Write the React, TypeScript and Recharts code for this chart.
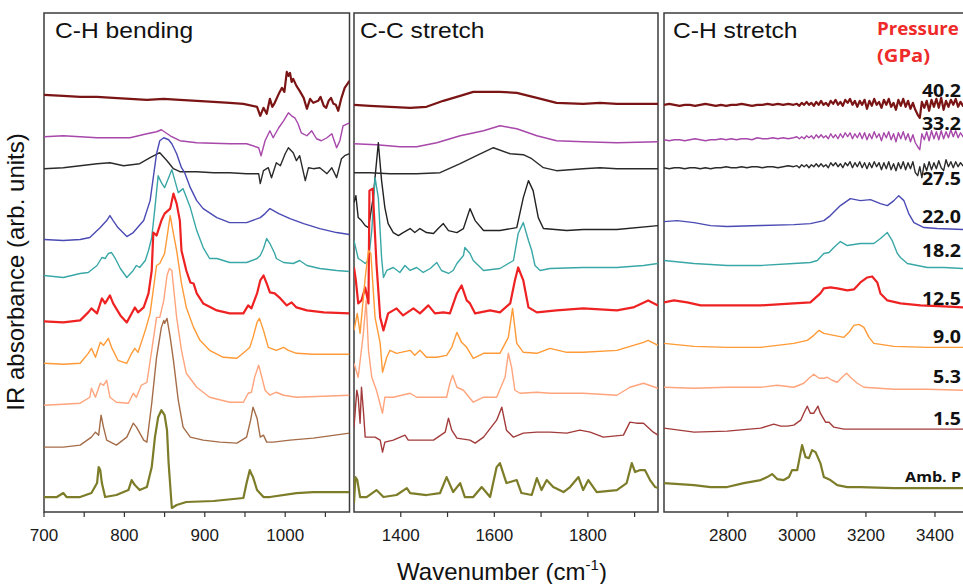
import React from "react";
import { LineChart, Line, XAxis, YAxis, ReferenceArea } from "recharts";

type Pt = [number, number];

// ---- pressures (GPa), top to bottom ----
const pressureLabels = ["40.2", "33.2", "27.5", "22.0", "18.2", "12.5", "9.0", "5.3", "1.5", "Amb. P"];
const panelTitles = ["C-H bending", "C-C stretch", "C-H stretch"];

// ---- axis ticks ----
const bendTicks = [700, 750, 800, 850, 900, 950, 1000, 1050];
const ccTicks = [1400, 1500, 1600, 1700, 1800, 1900];
const chTicks = [2800, 3000, 3200, 3400];

// ---- C-H bending panel (wavenumber, absorbance + offset) ----
const bend40: Pt[] = [[700,41.8],[724,41.7],[745,41.6],[766,41.6],[786,41.5],[807,41.4],[828,41.3],[849,41.4],[869,41.3],[890,41.2],[911,41.1],[931,41.0],[948,40.9],[965,40.6],[969,39.7],[973,40.5],[977,39.9],[981,41.4],[984,40.6],[987,41.0],[992,41.9],[996,42.5],[999,42.1],[1002,44.1],[1004,43.7],[1006,44.0],[1008,43.1],[1010,43.4],[1014,42.7],[1018,42.2],[1023,41.5],[1027,40.4],[1031,41.4],[1035,41.0],[1041,41.2],[1044,41.6],[1048,40.7],[1051,40.5],[1054,41.2],[1057,41.5],[1060,40.9],[1063,40.8],[1066,40.2],[1070,41.5],[1074,42.5],[1080,43.2]];
const bend33: Pt[] = [[700,37.6],[724,37.7],[766,37.5],[807,37.5],[828,37.9],[840,38.1],[846,38.3],[857,37.7],[869,37.2],[890,37.0],[931,36.9],[952,36.9],[967,36.5],[970,35.7],[975,37.2],[981,38.2],[985,37.5],[992,38.5],[998,39.2],[1004,40.0],[1008,39.7],[1012,39.5],[1016,38.9],[1020,38.0],[1027,37.7],[1033,38.2],[1039,37.4],[1045,37.2],[1052,37.5],[1058,37.9],[1064,36.5],[1068,37.2],[1072,38.7],[1080,39.0]];
const bend27: Pt[] = [[700,34.4],[724,34.5],[745,34.7],[766,34.9],[782,35.0],[799,34.7],[819,34.9],[832,35.5],[844,36.0],[853,35.2],[861,34.4],[869,34.1],[890,34.1],[911,34.0],[931,34.0],[952,33.9],[967,33.9],[969,32.9],[973,34.2],[979,34.5],[983,33.5],[989,35.0],[994,34.7],[1000,35.9],[1004,36.5],[1010,36.0],[1014,35.2],[1018,35.7],[1025,33.2],[1029,34.5],[1035,34.4],[1043,34.5],[1052,33.9],[1058,34.5],[1064,33.5],[1070,35.4],[1074,35.7],[1080,35.9]];
const bend22: Pt[] = [[700,27.3],[724,27.2],[745,27.3],[757,27.5],[770,28.5],[778,29.2],[782,29.7],[786,29.2],[792,28.5],[803,27.6],[811,28.0],[824,29.2],[832,31.2],[840,35.9],[844,37.2],[849,37.5],[855,37.3],[859,36.9],[865,35.9],[871,34.5],[875,34.0],[882,32.5],[890,31.2],[898,30.4],[915,29.5],[931,29.0],[952,29.0],[969,29.5],[975,29.9],[981,30.4],[992,29.9],[1006,29.4],[1023,28.9],[1043,28.4],[1064,28.0],[1080,27.8]];
const bend18: Pt[] = [[700,23.7],[724,23.5],[745,23.9],[755,24.0],[766,24.7],[772,25.5],[776,25.4],[780,25.9],[784,26.0],[788,25.5],[795,24.4],[803,23.5],[811,24.2],[815,24.7],[819,24.5],[826,25.2],[830,26.2],[834,27.5],[838,30.5],[842,33.7],[846,33.0],[850,32.5],[859,34.3],[867,32.0],[873,32.4],[882,30.5],[890,28.2],[898,26.5],[906,25.4],[915,25.4],[931,25.0],[952,25.0],[965,25.4],[969,25.7],[973,26.4],[977,27.4],[981,26.9],[987,25.9],[989,25.4],[998,25.0],[1010,24.9],[1018,25.2],[1027,24.7],[1043,24.4],[1064,24.2],[1080,24.1]];
const bend12: Pt[] = [[700,19.1],[724,19.0],[745,19.2],[755,20.0],[759,20.4],[766,19.9],[772,21.4],[776,20.9],[782,21.7],[786,20.9],[795,19.7],[803,19.0],[809,19.9],[813,20.5],[817,20.0],[824,20.5],[830,21.9],[834,24.2],[836,28.0],[840,27.7],[846,29.2],[850,29.9],[857,30.4],[861,31.9],[865,30.9],[869,29.2],[871,26.2],[877,24.2],[882,23.0],[886,22.9],[890,21.9],[898,20.9],[915,20.2],[931,19.9],[948,19.9],[954,20.7],[958,20.4],[965,21.9],[969,23.2],[973,23.7],[977,22.9],[981,22.0],[987,21.9],[994,21.4],[1002,20.7],[1008,21.0],[1014,20.5],[1027,20.2],[1048,20.0],[1080,19.9]];
const bend9: Pt[] = [[700,14.9],[724,14.8],[745,14.9],[755,15.9],[759,16.4],[764,15.5],[770,17.0],[774,16.7],[780,17.4],[784,16.5],[792,15.2],[803,14.9],[809,15.9],[813,16.4],[817,16.0],[826,18.2],[832,19.9],[840,24.7],[844,24.9],[850,25.9],[857,29.7],[861,27.9],[865,26.2],[871,22.9],[877,20.5],[886,18.5],[894,17.2],[906,16.2],[923,15.5],[940,15.4],[952,16.2],[956,16.5],[960,17.5],[965,19.0],[968,19.4],[973,18.2],[979,16.5],[989,16.2],[998,16.5],[1004,16.2],[1014,15.9],[1035,15.8],[1080,15.8]];
const bend5: Pt[] = [[700,10.7],[724,10.8],[745,10.9],[757,11.5],[759,12.4],[764,11.5],[770,12.9],[774,12.7],[778,13.2],[782,11.5],[790,11.0],[805,10.9],[811,11.9],[815,11.5],[821,12.7],[828,13.0],[834,16.2],[840,19.5],[844,19.5],[849,21.2],[853,23.7],[856,24.4],[859,24.2],[865,19.5],[871,16.2],[877,13.9],[890,12.5],[906,11.5],[931,11.0],[948,11.0],[954,11.9],[958,12.0],[962,13.5],[967,14.7],[971,13.5],[975,12.2],[981,11.7],[989,12.0],[998,11.7],[1014,11.5],[1080,11.7]];
const bend1: Pt[] = [[700,6.5],[724,6.5],[745,6.7],[759,7.5],[764,8.0],[768,7.7],[771,9.7],[774,8.5],[778,7.2],[790,6.7],[803,7.5],[811,8.9],[815,8.5],[824,7.2],[828,7.0],[834,10.9],[840,15.5],[846,18.5],[849,19.2],[850,18.9],[853,19.4],[857,17.5],[861,15.2],[867,11.2],[873,8.5],[882,7.5],[898,7.2],[919,7.0],[940,6.9],[952,7.5],[957,9.2],[960,10.5],[965,9.4],[969,7.5],[973,7.7],[977,7.0],[985,7.0],[1006,7.2],[1035,7.4],[1080,7.9]];
const bendAmb: Pt[] = [[700,1.5],[716,1.5],[724,1.9],[728,1.5],[745,1.5],[759,1.9],[766,2.9],[768,4.5],[770,4.2],[772,2.9],[776,1.5],[790,1.7],[805,2.2],[809,3.2],[813,2.7],[819,2.2],[828,2.5],[834,4.5],[838,7.5],[842,9.5],[846,10.2],[850,9.7],[853,8.2],[855,4.9],[859,0.4],[865,0.7],[877,1.0],[911,1.1],[948,1.4],[952,2.9],[956,4.2],[958,3.8],[960,3.5],[965,2.2],[973,1.5],[981,1.5],[1014,1.9],[1035,2.0],[1080,2.0]];

// ---- C-C stretch panel ----
const cc40: Pt[] = [[1300,40.8],[1334,40.7],[1377,40.6],[1420,40.5],[1455,40.6],[1491,41.2],[1527,41.7],[1555,42.1],[1612,42.1],[1648,42.0],[1691,41.5],[1733,41.0],[1790,40.9],[1826,41.0],[1862,40.9],[1950,40.9]];
const cc33: Pt[] = [[1300,36.9],[1348,36.8],[1398,36.6],[1434,36.6],[1477,37.0],[1527,37.7],[1577,38.2],[1612,38.7],[1648,38.4],[1691,37.7],[1733,37.2],[1790,37.1],[1862,37.0],[1950,37.1]];
const cc27: Pt[] = [[1300,34.0],[1334,34.0],[1377,33.9],[1434,33.9],[1484,34.0],[1527,34.9],[1562,35.7],[1598,36.5],[1634,35.9],[1662,35.8],[1680,35.4],[1705,34.5],[1733,34.2],[1790,34.4],[1826,34.5],[1862,34.4],[1950,34.4]];
const cc22: Pt[] = [[1300,31.0],[1304,31.7],[1309,29.5],[1316,29.2],[1324,28.7],[1331,28.5],[1341,31.5],[1352,37.0],[1359,33.2],[1366,30.5],[1373,28.9],[1384,28.0],[1395,27.7],[1405,28.0],[1420,28.4],[1430,28.0],[1441,28.4],[1455,28.0],[1470,27.9],[1480,28.4],[1491,28.9],[1502,28.2],[1520,28.0],[1534,28.4],[1548,30.4],[1559,29.2],[1577,28.2],[1612,28.2],[1648,28.5],[1662,31.5],[1673,33.2],[1683,32.2],[1694,29.5],[1705,28.4],[1755,28.2],[1790,28.3],[1862,28.3],[1950,28.7]];
const cc18: Pt[] = [[1300,27.2],[1309,25.4],[1316,25.2],[1324,24.9],[1331,25.2],[1338,28.2],[1345,33.5],[1352,31.5],[1359,25.5],[1363,23.5],[1370,24.2],[1384,24.5],[1398,24.0],[1409,24.7],[1420,24.2],[1434,24.5],[1448,24.0],[1463,24.4],[1477,25.0],[1487,24.2],[1502,23.9],[1512,24.2],[1520,24.9],[1534,25.7],[1537,26.5],[1548,25.9],[1555,25.2],[1566,24.7],[1577,24.2],[1612,24.4],[1641,25.2],[1651,27.9],[1662,29.0],[1673,27.2],[1680,26.2],[1687,24.7],[1698,24.2],[1719,24.4],[1790,24.5],[1862,24.5],[1919,24.7],[1950,24.9]];
const cc12: Pt[] = [[1300,24.5],[1304,23.2],[1309,20.9],[1316,21.2],[1324,22.5],[1331,20.9],[1333,32.2],[1340,32.4],[1348,24.9],[1356,19.5],[1363,18.2],[1373,19.9],[1391,20.4],[1405,19.7],[1427,20.4],[1441,19.9],[1459,20.7],[1473,19.9],[1491,20.0],[1505,19.9],[1520,21.9],[1530,22.7],[1541,21.2],[1548,20.9],[1559,19.9],[1591,20.2],[1612,20.0],[1634,20.9],[1644,23.2],[1651,24.5],[1662,23.2],[1673,20.5],[1691,20.0],[1733,20.2],[1790,20.4],[1862,20.2],[1897,20.5],[1929,21.2],[1950,20.7]];
const cc9: Pt[] = [[1300,18.2],[1307,19.9],[1313,17.9],[1324,23.5],[1331,26.2],[1336,25.9],[1345,19.5],[1356,16.9],[1361,14.0],[1370,15.5],[1377,16.2],[1391,15.9],[1420,16.2],[1430,15.7],[1441,16.2],[1455,15.5],[1477,15.5],[1498,15.7],[1509,16.5],[1520,18.0],[1530,17.0],[1541,16.5],[1555,15.4],[1577,15.9],[1612,15.9],[1630,17.5],[1639,20.4],[1648,16.9],[1662,16.0],[1691,15.9],[1719,16.4],[1755,16.0],[1790,16.0],[1862,16.2],[1919,17.0],[1929,17.2],[1950,16.7]];
const cc5: Pt[] = [[1300,14.9],[1309,13.5],[1320,17.9],[1326,21.2],[1331,16.2],[1338,13.5],[1348,12.2],[1361,9.9],[1366,11.5],[1384,11.5],[1420,11.9],[1434,11.5],[1477,11.5],[1498,11.5],[1505,12.9],[1511,13.7],[1520,12.5],[1534,12.2],[1555,11.0],[1577,11.5],[1605,11.5],[1623,13.5],[1630,15.9],[1637,14.5],[1644,12.2],[1655,11.9],[1691,12.0],[1719,11.9],[1790,11.9],[1862,11.7],[1890,12.5],[1919,12.9],[1950,12.4]];
const cc1: Pt[] = [[1300,8.5],[1306,12.2],[1309,11.5],[1313,8.9],[1316,12.5],[1320,10.2],[1324,7.5],[1334,7.5],[1345,7.5],[1356,7.2],[1361,6.0],[1366,7.0],[1384,7.2],[1409,7.7],[1416,7.2],[1470,7.2],[1495,8.0],[1502,9.4],[1509,8.2],[1520,7.4],[1548,7.2],[1559,6.9],[1577,7.5],[1605,9.2],[1616,10.5],[1626,8.2],[1641,7.5],[1662,7.9],[1691,8.0],[1719,8.0],[1755,7.9],[1783,8.2],[1805,8.0],[1833,7.5],[1876,7.7],[1890,9.0],[1904,8.9],[1919,8.9],[1940,8.0],[1950,7.7]];
const ccAmb: Pt[] = [[1300,0.9],[1303,3.5],[1307,3.2],[1313,1.5],[1327,1.5],[1348,2.2],[1363,1.5],[1391,1.7],[1413,2.4],[1420,1.9],[1455,1.7],[1484,1.9],[1498,3.5],[1512,2.0],[1527,2.9],[1537,1.5],[1555,1.5],[1573,2.5],[1591,1.5],[1605,4.5],[1612,4.9],[1626,2.9],[1648,3.2],[1658,1.9],[1680,1.7],[1691,3.4],[1701,2.2],[1712,3.2],[1726,2.5],[1748,2.0],[1762,2.5],[1780,3.5],[1790,2.2],[1801,3.2],[1819,2.0],[1862,2.2],[1883,2.9],[1894,4.9],[1901,4.0],[1912,4.2],[1922,4.2],[1933,3.2],[1944,2.5],[1950,2.4]];

// ---- C-H stretch panel ----
const ch40: Pt[] = [[2615,40.8],[2630,40.9],[2645,40.8],[2660,40.7],[2675,40.8],[2690,40.8],[2705,40.7],[2720,40.8],[2735,40.9],[2750,40.8],[2765,40.7],[2780,40.8],[2795,40.7],[2810,40.8],[2825,40.8],[2840,40.9],[2855,40.8],[2870,40.7],[2885,40.8],[2900,40.8],[2915,40.9],[2930,40.8],[2945,40.9],[2960,40.8],[2975,40.9],[2990,40.8],[3000,40.9],[3007,40.7],[3014,41.0],[3021,40.8],[3028,41.1],[3035,40.8],[3042,41.0],[3049,40.7],[3056,41.1],[3063,40.8],[3070,41.2],[3077,40.8],[3084,41.0],[3091,40.7],[3098,41.2],[3105,40.9],[3112,41.3],[3119,40.8],[3126,41.1],[3133,40.7],[3140,41.3],[3147,41.0],[3154,41.4],[3161,40.8],[3168,41.2],[3175,40.6],[3182,41.2],[3189,40.8],[3196,41.3],[3203,40.4],[3210,41.2],[3217,40.7],[3224,41.4],[3231,40.8],[3238,41.1],[3245,40.5],[3252,41.3],[3259,40.8],[3266,41.4],[3273,40.6],[3280,41.0],[3287,40.3],[3294,41.3],[3301,40.7],[3308,41.4],[3315,40.6],[3322,41.2],[3329,40.4],[3336,41.0],[3343,40.3],[3350,39.8],[3356,39.5],[3362,41.1],[3369,40.5],[3376,41.2],[3383,40.2],[3390,41.3],[3397,40.6],[3404,41.4],[3411,40.5],[3418,41.5],[3425,40.3],[3432,41.2],[3439,40.6],[3446,41.3],[3453,40.8],[3460,41.4],[3467,40.6],[3474,41.1],[3481,40.7],[3488,41.2],[3495,40.8],[3500,41.0]];
const ch33: Pt[] = [[2615,37.3],[2630,37.2],[2645,37.3],[2660,37.3],[2675,37.2],[2690,37.3],[2705,37.4],[2720,37.3],[2735,37.2],[2750,37.3],[2765,37.3],[2780,37.4],[2795,37.3],[2810,37.4],[2825,37.3],[2840,37.4],[2855,37.4],[2870,37.3],[2885,37.5],[2900,37.4],[2915,37.4],[2930,37.5],[2945,37.4],[2960,37.5],[2975,37.4],[2990,37.5],[3000,37.6],[3007,37.4],[3014,37.6],[3021,37.4],[3028,37.7],[3035,37.5],[3042,37.7],[3049,37.4],[3056,37.8],[3063,37.5],[3070,37.8],[3077,37.5],[3084,37.7],[3091,37.4],[3098,37.9],[3105,37.5],[3112,37.8],[3119,37.4],[3126,37.9],[3133,37.5],[3140,38.0],[3147,37.6],[3154,38.0],[3161,37.4],[3168,37.9],[3175,37.5],[3182,38.0],[3189,37.4],[3196,38.0],[3203,37.3],[3210,37.9],[3217,37.4],[3224,38.1],[3231,37.5],[3238,37.9],[3245,37.2],[3252,38.0],[3259,37.5],[3266,38.1],[3273,37.3],[3280,37.9],[3287,37.1],[3294,38.0],[3301,37.4],[3308,38.1],[3315,37.3],[3322,37.9],[3329,37.1],[3336,37.8],[3343,37.0],[3350,36.6],[3356,36.3],[3362,37.9],[3369,37.3],[3376,38.1],[3383,37.2],[3390,38.2],[3397,37.4],[3404,38.1],[3411,37.3],[3418,38.2],[3425,37.4],[3432,38.1],[3439,37.5],[3446,38.3],[3453,37.6],[3460,38.2],[3467,37.5],[3474,38.0],[3481,37.6],[3488,38.1],[3495,37.7],[3500,37.8]];
const ch27: Pt[] = [[2615,34.5],[2630,34.4],[2645,34.5],[2660,34.5],[2675,34.4],[2690,34.5],[2705,34.5],[2720,34.4],[2735,34.5],[2750,34.4],[2765,34.5],[2780,34.5],[2795,34.6],[2810,34.5],[2825,34.5],[2840,34.6],[2855,34.5],[2870,34.6],[2885,34.6],[2900,34.5],[2915,34.6],[2930,34.6],[2945,34.5],[2960,34.6],[2975,34.7],[2990,34.6],[3000,34.7],[3007,34.5],[3014,34.8],[3021,34.6],[3028,34.8],[3035,34.5],[3042,34.8],[3049,34.6],[3056,34.9],[3063,34.6],[3070,34.9],[3077,34.6],[3084,34.8],[3091,34.5],[3098,35.0],[3105,34.7],[3112,35.0],[3119,34.6],[3126,34.9],[3133,34.5],[3140,35.0],[3147,34.7],[3154,35.1],[3161,34.5],[3168,35.0],[3175,34.6],[3182,35.1],[3189,34.5],[3196,35.0],[3203,34.4],[3210,35.0],[3217,34.5],[3224,35.1],[3231,34.6],[3238,35.0],[3245,34.3],[3252,35.0],[3259,34.4],[3266,35.1],[3273,34.3],[3280,34.9],[3287,34.2],[3294,35.0],[3301,34.4],[3308,35.1],[3315,34.3],[3322,35.0],[3329,34.4],[3336,35.1],[3343,34.0],[3350,33.7],[3356,34.6],[3362,33.5],[3369,34.9],[3376,34.2],[3383,35.1],[3390,34.3],[3397,35.0],[3404,34.4],[3411,35.2],[3418,34.5],[3425,34.2],[3432,35.3],[3439,34.6],[3446,35.1],[3453,34.5],[3460,35.1],[3467,34.6],[3474,35.0],[3481,34.7],[3488,35.0],[3495,34.8],[3500,34.9]];
const ch22: Pt[] = [[2615,29.1],[2653,29.2],[2702,29.0],[2750,28.7],[2798,28.6],[2895,28.7],[2991,28.8],[3039,28.9],[3078,29.2],[3097,29.7],[3126,30.7],[3155,31.4],[3184,31.2],[3213,31.3],[3242,30.9],[3262,30.7],[3281,31.2],[3295,31.7],[3310,31.2],[3324,29.9],[3339,29.0],[3368,28.5],[3406,28.4],[3483,28.3],[3500,28.3]];
const ch18: Pt[] = [[2615,25.2],[2702,24.9],[2798,24.7],[2895,24.7],[2991,24.9],[3039,25.0],[3059,25.2],[3078,25.9],[3093,26.0],[3107,26.5],[3126,27.1],[3146,26.7],[3184,26.9],[3223,26.9],[3242,27.4],[3262,28.0],[3276,27.2],[3291,25.9],[3300,25.5],[3320,24.9],[3378,24.5],[3426,24.5],[3483,24.4],[3500,24.4]];
const ch12: Pt[] = [[2615,21.0],[2644,21.2],[2682,21.0],[2721,20.7],[2798,20.7],[2895,20.7],[2991,20.9],[3039,21.0],[3068,21.9],[3078,22.4],[3097,22.5],[3117,22.4],[3146,22.2],[3165,22.3],[3184,23.0],[3204,23.5],[3218,23.6],[3233,23.0],[3242,21.9],[3262,21.2],[3300,20.9],[3358,20.7],[3426,20.6],[3483,20.5],[3500,20.5]];
const ch9: Pt[] = [[2615,16.9],[2702,16.6],[2798,16.5],[2895,16.5],[2943,16.7],[2991,16.9],[3030,17.2],[3049,17.7],[3064,18.2],[3078,17.9],[3107,17.7],[3136,17.5],[3151,18.0],[3165,18.7],[3180,18.8],[3194,18.5],[3209,17.5],[3223,16.9],[3281,16.6],[3378,16.5],[3483,16.5],[3500,16.5]];
const ch5: Pt[] = [[2615,12.5],[2702,12.4],[2798,12.5],[2895,12.5],[2943,12.7],[2991,12.5],[3020,12.9],[3035,13.4],[3049,13.8],[3064,13.4],[3078,13.4],[3088,13.5],[3102,13.2],[3117,13.0],[3131,13.5],[3144,13.9],[3155,13.5],[3175,12.9],[3194,12.5],[3281,12.3],[3378,12.3],[3483,12.2],[3500,12.2]];
const ch1: Pt[] = [[2615,8.4],[2702,8.0],[2798,8.1],[2895,8.4],[2933,8.8],[2953,8.6],[2972,8.6],[2991,8.7],[3011,9.2],[3020,9.9],[3030,10.6],[3039,9.9],[3049,9.9],[3061,10.6],[3068,9.9],[3083,9.0],[3093,9.0],[3107,8.5],[3136,8.3],[3184,8.3],[3483,8.3],[3500,8.3]];
const chAmb: Pt[] = [[2615,2.9],[2702,2.7],[2750,2.5],[2798,2.5],[2846,2.9],[2895,3.2],[2914,3.5],[2928,3.8],[2943,3.3],[2962,3.2],[2977,3.5],[2986,4.2],[3001,4.2],[3015,6.7],[3025,5.5],[3035,5.4],[3044,6.2],[3054,6.0],[3068,4.9],[3078,3.5],[3097,3.2],[3117,2.7],[3146,2.5],[3184,2.5],[3281,2.4],[3378,2.4],[3483,2.4],[3500,2.4]];

// ---- colours, top to bottom ----
const colors = ["#7b1515", "#a747aa", "#2b2b2b", "#4a4ab4", "#3aa7a7", "#ee2222", "#ff9a36", "#ffa47c", "#a33b3b", "#7c7c29"];
const thickRows = [0, 5, 9];

interface Trace {
  data: Pt[];
  color: string;
  width: number;
}

function makeTraces(sets: Pt[][], override: Record<number, string> = {}): Trace[] {
  return sets.map((data, i) => ({
    data,
    color: override[i] ?? colors[i],
    width: thickRows.includes(i) ? 2.2 : 1.4,
  }));
}

const bendTraces = makeTraces([bend40, bend33, bend27, bend22, bend18, bend12, bend9, bend5, bend1, bendAmb], { 8: "#a56c48" });
const ccTraces = makeTraces([cc40, cc33, cc27, cc22, cc18, cc12, cc9, cc5, cc1, ccAmb], { 3: "#222222" });
const chTraces = makeTraces([ch40, ch33, ch27, ch22, ch18, ch12, ch9, ch5, ch1, chAmb]);

const FONT = "'Liberation Sans', Arial, sans-serif";

interface PanelProps {
  plotLeft: number;
  plotWidth: number;
  domain: [number, number];
  ticks: number[];
  labelEvery: number;
  traces: Trace[];
}

function Panel({ plotLeft, plotWidth, domain, ticks, labelEvery, traces }: PanelProps) {
  const pad = 30;
  return (
    <div style={{ position: "absolute", left: plotLeft - pad, top: 0 }}>
      <LineChart
        width={plotWidth + 2 * pad}
        height={584}
        margin={{ top: 13, right: pad, bottom: 32, left: pad }}
      >
        <XAxis
          type="number"
          dataKey="x"
          domain={domain}
          ticks={ticks}
          interval={0}
          allowDataOverflow
          height={40}
          axisLine={false}
          tickLine={{ stroke: "#333", strokeWidth: 1.2 }}
          tickSize={5}
          tickMargin={12}
          tickFormatter={(v: number) => (v % labelEvery === 0 ? String(v) : "")}
          tick={{ fontSize: 17, fill: "#1a1a1a", fontFamily: FONT }}
        />
        <YAxis type="number" domain={[0, 50]} hide allowDataOverflow />
        <ReferenceArea
          x1={domain[0]}
          x2={domain[1]}
          y1={0}
          y2={50}
          fill="none"
          stroke="#3c3c3c"
          strokeWidth={1.5}
          ifOverflow="visible"
        />
        {traces.map((t, i) => (
          <Line
            key={i}
            data={t.data.map(([x, y]) => ({ x, y }))}
            dataKey="y"
            type="linear"
            stroke={t.color}
            strokeWidth={t.width}
            strokeLinejoin="round"
            dot={false}
            activeDot={false}
            isAnimationActive={false}
          />
        ))}
      </LineChart>
    </div>
  );
}

const labelBaselines = [97, 130, 185, 223, 257, 305, 343, 383, 425, 482];
const titleX = [55, 360, 673];

export default function App() {
  return (
    <div
      style={{
        position: "fixed",
        left: 0,
        top: 0,
        width: 963,
        height: 584,
        overflow: "hidden",
        background: "#fff",
      }}
    >
      <Panel plotLeft={44} plotWidth={305.5} domain={[700, 1080]} ticks={bendTicks} labelEvery={100} traces={bendTraces} />
      <Panel plotLeft={354} plotWidth={304} domain={[1300, 1950]} ticks={ccTicks} labelEvery={200} traces={ccTraces} />
      <Panel plotLeft={663.5} plotWidth={305.5} domain={[2615, 3500]} ticks={chTicks} labelEvery={200} traces={chTraces} />

      <svg width={963} height={584} style={{ position: "absolute", left: 0, top: 0, pointerEvents: "none" }}>
        {panelTitles.map((t, i) => (
          <text key={t} transform={`translate(${titleX[i]},38) scale(1.12,1)`} fontFamily={FONT} fontSize={22} fill="#111">
            {t}
          </text>
        ))}
        <text transform="translate(877,35) scale(1.04,1)" fontFamily="'Open Sans', sans-serif" fontWeight={700} fontSize={18} fill="#ee2a2a">
          Pressure
        </text>
        <text transform="translate(877,62) scale(1.12,1)" fontFamily="'Open Sans', sans-serif" fontWeight={700} fontSize={18} fill="#ee2a2a">
          (GPa)
        </text>
        {pressureLabels.map((p, i) => (
          <text
            key={p}
            transform={`translate(961,${labelBaselines[i]}) scale(1.15,1)`}
            textAnchor="end"
            fontFamily="'Open Sans', sans-serif"
            fontWeight={700}
            fontSize={i === 9 ? 14 : 17}
            fill="#111"
          >
            {p}
          </text>
        ))}
        <text
          transform="translate(24,272) rotate(-90)"
          textAnchor="middle"
          fontFamily={FONT}
          fontSize={24}
          fill="#111"
        >
          IR absorbance (arb. units)
        </text>
        <text x={502} y={580} textAnchor="middle" fontFamily={FONT} fontSize={24} fill="#111">
          Wavenumber (cm
          <tspan fontSize={15} dy={-10}>-1</tspan>
          <tspan dy={10}>)</tspan>
        </text>
      </svg>
    </div>
  );
}
